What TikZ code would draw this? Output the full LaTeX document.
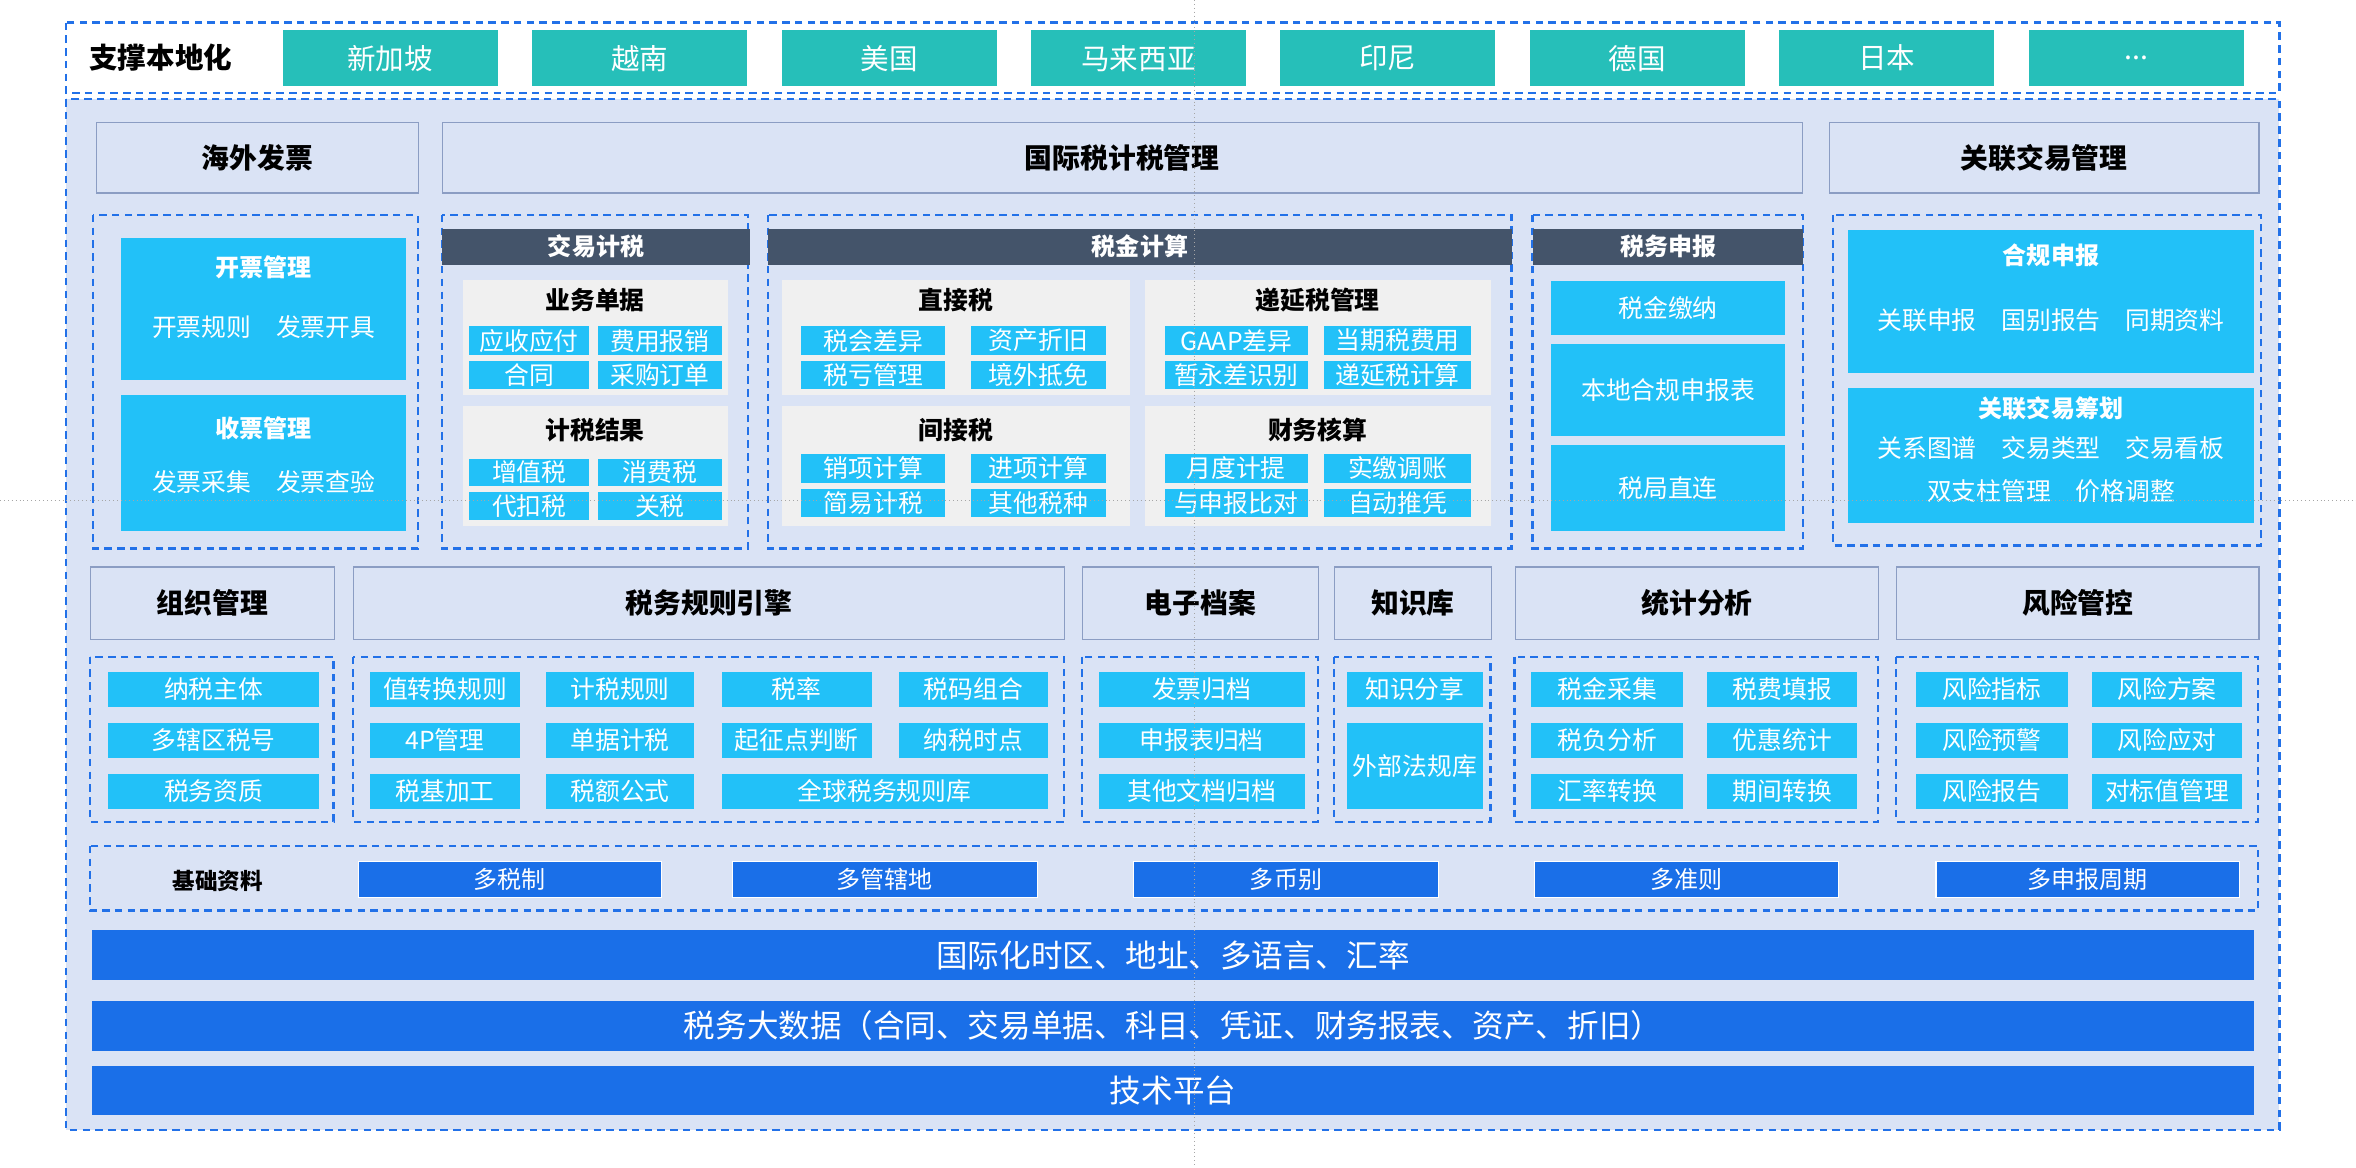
\documentclass[tikz,border=0pt]{standalone}
\usepackage{fontspec}
\setmainfont{Noto Sans CJK SC}
\definecolor{bgl}{HTML}{DAE3F5}
\definecolor{cy}{HTML}{22C1F8}
\definecolor{db}{HTML}{1A6FE8}
\definecolor{dk}{HTML}{44546A}
\definecolor{gr}{HTML}{F0F0F0}
\definecolor{tl}{HTML}{26BFB9}
\definecolor{dsh}{HTML}{2271E8}
\definecolor{hb}{HTML}{8B9DC3}
\tikzset{
 dpanel/.style={draw=dsh,line width=1.5pt,dash pattern=on 5pt off 3.5pt,fill=bgl},
 hdr/.style={draw=hb,line width=0.8pt,fill=bgl,font=\fontsize{18.5}{18}\selectfont\bfseries},
 cyb/.style={fill=cy,text=white,font=\fontsize{16.5}{16}\selectfont},
 cyh/.style={fill=cy,text=white,font=\fontsize{16}{16}\selectfont\bfseries},
 tlb/.style={fill=tl,text=white,font=\fontsize{19}{19}\selectfont},
 dkb/.style={fill=dk,text=white,font=\fontsize{16}{16}\selectfont\bfseries},
 grb/.style={fill=gr},
 dbb/.style={fill=db,draw=white,line width=0.8pt,text=white,font=\fontsize{16}{16}\selectfont},
 big/.style={fill=db,text=white,font=\fontsize{21}{21}\selectfont},
 sub/.style={font=\fontsize{16.5}{16}\selectfont\bfseries},
 wt/.style={text=white,font=\fontsize{16.5}{16}\selectfont},
}
\newcommand\B[7][]{\pgfmathsetmacro\bw{#5-#3}\pgfmathsetmacro\bh{#6-#4}%
 \node[#1,inner sep=0pt,minimum width=\bw pt,minimum height=\bh pt,anchor=north west] (#2) at (#3,#4) {#7};}
\begin{document}
\begin{tikzpicture}[x=1pt,y=-1pt]
\useasboundingbox (0,0) rectangle (1568,777);
% top
\draw[dpanel,fill=white] (44,15) rectangle (1517,62);
\node[font=\fontsize{19}{19}\selectfont\bfseries] (sup) at (107,38.5) {支撑本地化};
\B[tlb]{c1}{188}{20}{331}{57}{新加坡}
\B[tlb]{c2}{354}{20}{497}{57}{越南}
\B[tlb]{c3}{520}{20}{663}{57}{美国}
\B[tlb]{c4}{686}{20}{829}{57}{马来西亚}
\B[tlb]{c5}{852}{20}{995}{57}{印尼}
\B[tlb]{c6}{1018}{20}{1161}{57}{德国}
\B[tlb]{c7}{1184}{20}{1327}{57}{日本}
\B[tlb]{c8}{1350}{20}{1493}{57}{...}
% main
\draw[dpanel] (44,66) rectangle (1517,752);
\B[hdr]{h1}{64}{81}{278}{128}{海外发票}
\B[hdr]{h2}{294}{81}{1199}{128}{国际税计税管理}
\B[hdr]{h3}{1217}{81}{1503}{128}{关联交易管理}
% 海外发票
\draw[dpanel] (62,143) rectangle (278,365);
\B[cyb]{k1}{80}{158}{270}{253}{}
\node[cyh] (k1t) at (175.5,178) {开票管理};
\node[wt] (k1a) at (175.5,218) {开票规则\quad 发票开具};
\B[cyb]{k2}{80}{263}{270}{353}{}
\node[cyh] (k2t) at (175.5,285) {收票管理};
\node[wt] (k2a) at (175.5,321) {发票采集\quad 发票查验};
% 交易计税
\draw[dpanel] (294,143) rectangle (498,365);
\B[dkb]{jt}{294}{152}{499}{176}{交易计税}
\B[grb]{g1}{308}{186}{484}{263}{}
\node[sub] (g1t) at (396,200) {业务单据};
\B[cyb]{a1}{312}{217}{392}{236}{应收应付}
\B[cyb]{a2}{398}{217}{480}{236}{费用报销}
\B[cyb]{a3}{312}{240}{392}{259}{合同}
\B[cyb]{a4}{398}{240}{480}{259}{采购订单}
\B[grb]{g2}{308}{270}{484}{350}{}
\node[sub] (g2t) at (396,286) {计税结果};
\B[cyb]{a5}{312}{305}{392}{323}{增值税}
\B[cyb]{a6}{398}{305}{480}{323}{消费税}
\B[cyb]{a7}{312}{327}{392}{346}{代扣税}
\B[cyb]{a8}{398}{327}{480}{346}{关税}
% 税金计算
\draw[dpanel] (511,143) rectangle (1006,365);
\B[dkb]{st}{511}{152}{1006}{176}{税金计算}
\B[grb]{g3}{520}{186}{752}{263}{}
\node[sub] (g3t) at (636,200) {直接税};
\B[cyb]{b1}{533}{217}{629}{236}{税会差异}
\B[cyb]{b2}{646}{217}{736}{236}{资产折旧}
\B[cyb]{b3}{533}{240}{629}{259}{税亏管理}
\B[cyb]{b4}{646}{240}{736}{259}{境外抵免}
\B[grb]{g4}{762}{186}{992}{263}{}
\node[sub] (g4t) at (877,200) {递延税管理};
\B[cyb]{b5}{775}{217}{870}{236}{GAAP差异}
\B[cyb]{b6}{881}{217}{979}{236}{当期税费用}
\B[cyb]{b7}{775}{240}{870}{259}{暂永差识别}
\B[cyb]{b8}{881}{240}{979}{259}{递延税计算}
\B[grb]{g5}{520}{270}{752}{350}{}
\node[sub] (g5t) at (636,286) {间接税};
\B[cyb]{b9}{533}{302}{629}{321}{销项计算}
\B[cyb]{b10}{646}{302}{736}{321}{进项计算}
\B[cyb]{b11}{533}{325}{629}{344}{简易计税}
\B[cyb]{b12}{646}{325}{736}{344}{其他税种}
\B[grb]{g6}{762}{270}{992}{350}{}
\node[sub] (g6t) at (877,286) {财务核算};
\B[cyb]{b13}{775}{302}{870}{321}{月度计提}
\B[cyb]{b14}{881}{302}{979}{321}{实缴调账}
\B[cyb]{b15}{775}{325}{870}{344}{与申报比对}
\B[cyb]{b16}{881}{325}{979}{344}{自动推凭}
% 税务申报
\draw[dpanel] (1020,143) rectangle (1200,365);
\B[dkb]{sb}{1020}{152}{1200}{176}{税务申报}
\B[cyb]{d1}{1032}{187}{1188}{223}{税金缴纳}
\B[cyb]{d2}{1032}{229}{1188}{290}{本地合规申报表}
\B[cyb]{d3}{1032}{296}{1188}{353}{税局直连}
% 关联交易
\draw[dpanel] (1220,143) rectangle (1505,363);
\B[cyb]{e1}{1230}{153}{1500}{248}{}
\node[cyh] (e1t) at (1365,170) {合规申报};
\node[wt] (e1a) at (1365,213) {关联申报\quad 国别报告\quad 同期资料};
\B[cyb]{e2}{1230}{258}{1500}{348}{}
\node[cyh] (e2t) at (1365,272) {关联交易筹划};
\node[wt] (e2a) at (1365,298) {关系图谱\quad 交易类型\quad 交易看板};
\node[wt] (e2b) at (1365,327) {双支柱管理\quad 价格调整};
% row 2 headers
\B[hdr]{r1}{60}{377}{222}{425}{组织管理}
\B[hdr]{r2}{235}{377}{708}{425}{税务规则引擎}
\B[hdr]{r3}{720}{377}{877}{425}{电子档案}
\B[hdr]{r4}{888}{377}{992}{425}{知识库}
\B[hdr]{r5}{1008}{377}{1250}{425}{统计分析}
\B[hdr]{r6}{1262}{377}{1503}{425}{风险管控}
\draw[dpanel] (60,437) rectangle (222,547);
\draw[dpanel] (235,437) rectangle (708,547);
\draw[dpanel] (720,437) rectangle (877,547);
\draw[dpanel] (888,437) rectangle (992,547);
\draw[dpanel] (1008,437) rectangle (1250,547);
\draw[dpanel] (1262,437) rectangle (1503,547);
\B[cyb]{o1}{72}{447}{212}{470}{纳税主体}
\B[cyb]{o2}{72}{481}{212}{504}{多辖区税号}
\B[cyb]{o3}{72}{515}{212}{538}{税务资质}
\B[cyb]{q1}{246}{447}{346}{470}{值转换规则}
\B[cyb]{q2}{363}{447}{462}{470}{计税规则}
\B[cyb]{q3}{480}{447}{580}{470}{税率}
\B[cyb]{q4}{598}{447}{697}{470}{税码组合}
\B[cyb]{q5}{246}{481}{346}{504}{4P管理}
\B[cyb]{q6}{363}{481}{462}{504}{单据计税}
\B[cyb]{q7}{480}{481}{580}{504}{起征点判断}
\B[cyb]{q8}{598}{481}{697}{504}{纳税时点}
\B[cyb]{q9}{246}{515}{346}{538}{税基加工}
\B[cyb]{q10}{363}{515}{462}{538}{税额公式}
\B[cyb]{q11}{480}{515}{697}{538}{全球税务规则库}
\B[cyb]{f1}{731}{447}{868}{470}{发票归档}
\B[cyb]{f2}{731}{481}{868}{504}{申报表归档}
\B[cyb]{f3}{731}{515}{868}{538}{其他文档归档}
\B[cyb]{z1}{896}{447}{987}{470}{知识分享}
\B[cyb]{z2}{896}{481}{987}{538}{外部法规库}
\B[cyb]{t1}{1019}{447}{1120}{470}{税金采集}
\B[cyb]{t2}{1136}{447}{1236}{470}{税费填报}
\B[cyb]{t3}{1019}{481}{1120}{504}{税负分析}
\B[cyb]{t4}{1136}{481}{1236}{504}{优惠统计}
\B[cyb]{t5}{1019}{515}{1120}{538}{汇率转换}
\B[cyb]{t6}{1136}{515}{1236}{538}{期间转换}
\B[cyb]{v1}{1275}{447}{1376}{470}{风险指标}
\B[cyb]{v2}{1392}{447}{1492}{470}{风险方案}
\B[cyb]{v3}{1275}{481}{1376}{504}{风险预警}
\B[cyb]{v4}{1392}{481}{1492}{504}{风险应对}
\B[cyb]{v5}{1275}{515}{1376}{538}{风险报告}
\B[cyb]{v6}{1392}{515}{1492}{538}{对标值管理}
% 基础资料
\draw[dpanel] (60,563) rectangle (1503,606);
\node[font=\fontsize{15}{15}\selectfont\bfseries] (jc) at (145,586) {基础资料};
\B[dbb]{w1}{238}{573}{440}{597}{多税制}
\B[dbb]{w2}{487}{573}{690}{597}{多管辖地}
\B[dbb]{w3}{754}{573}{957}{597}{多币别}
\B[dbb]{w4}{1021}{573}{1223}{597}{多准则}
\B[dbb]{w5}{1288}{573}{1490}{597}{多申报周期}
\B[big]{x1}{61}{619}{1500}{652}{国际化时区、地址、多语言、汇率}
\B[big]{x2}{61}{666}{1500}{699}{税务大数据（合同、交易单据、科目、凭证、财务报表、资产、折旧）}
\B[big]{x3}{61}{709}{1500}{742}{技术平台}
% guides
\draw[gray!70,dotted,line width=0.6pt] (0,333) -- (1568,333);
\draw[gray!70,dotted,line width=0.6pt] (795,0) -- (795,777);
\end{tikzpicture}
\end{document}
